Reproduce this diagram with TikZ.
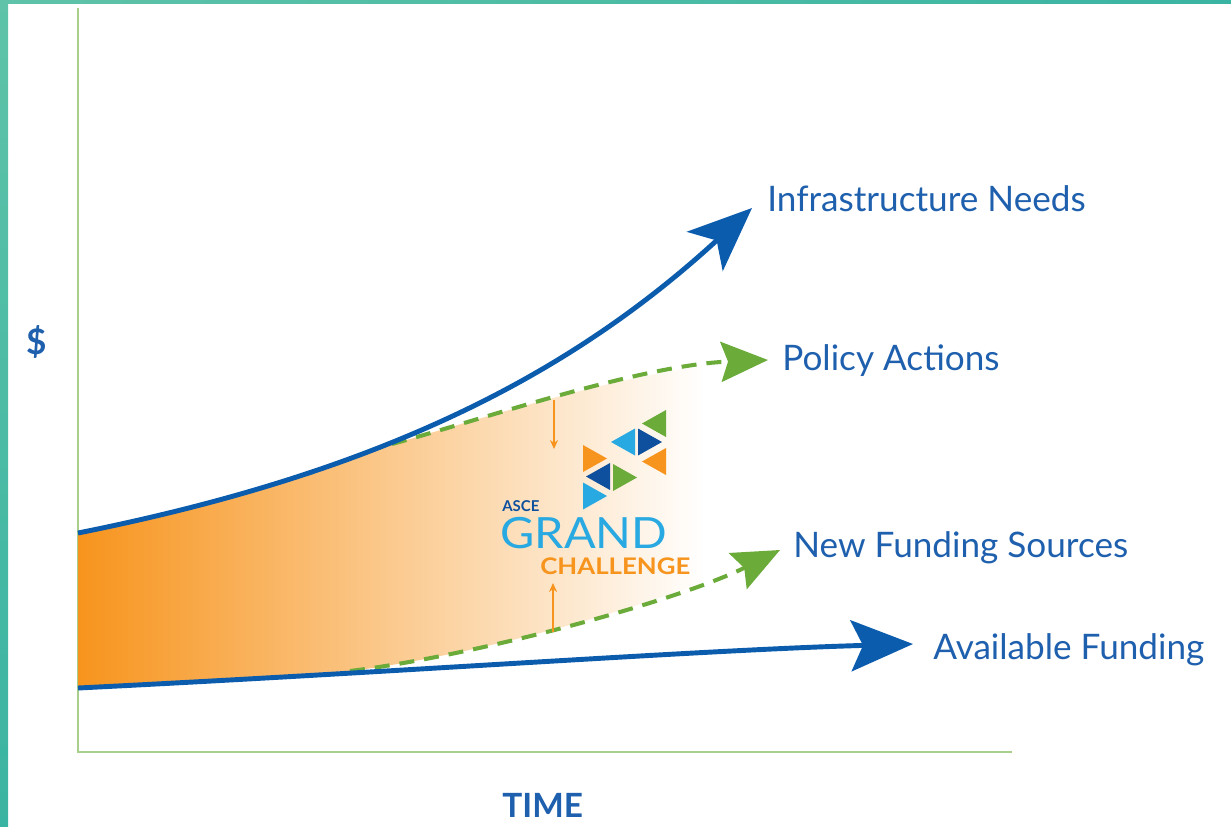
\documentclass[tikz,border=0pt]{standalone}
\usepackage{fontspec}
\setmainfont{Lato}
\usetikzlibrary{arrows.meta}
\usetikzlibrary{positioning}

\definecolor{lineblue}{RGB}{11,92,173}
\definecolor{textblue}{RGB}{30,96,174}
\definecolor{dashgreen}{RGB}{107,171,58}
\definecolor{axisgreen}{RGB}{168,207,139}
\definecolor{fillorange}{RGB}{247,148,29}
\definecolor{logoblue}{RGB}{41,169,225}
\definecolor{logonavy}{RGB}{14,80,158}
\definecolor{tealA}{RGB}{94,195,168}
\definecolor{tealB}{RGB}{58,180,162}

\begin{document}
\begin{tikzpicture}[x=0.02cm,y=-0.02cm,
  curvelbl/.style={font=\fontsize{20}{24}\selectfont,text=textblue,anchor=base west,inner sep=0pt},
  bluecurve/.style={draw=lineblue,line width=2.8pt},
  greendash/.style={draw=dashgreen,line width=2.3pt,dash pattern=on 0.3cm off 0.2cm},
  gapmark/.style={draw=fillorange,line width=0.8pt,-{Stealth[length=0.18cm,width=0.16cm]}}]
\useasboundingbox (0,0) rectangle (1231,826);
\fill[white] (0,0) rectangle (1231,826);
\shade[top color=tealA,bottom color=tealB] (0,0) rectangle (8,826);
\shade[left color=tealA,right color=tealB] (0,0) rectangle (1231,3.5);

% axes
\draw[axisgreen,line width=1.1pt] (78,8) -- (78,752) -- (1012,752);

\coordinate (needs0) at (78,533);
\coordinate (needs1) at (752,208);
\coordinate (fund0) at (78,688);
\coordinate (fund1) at (913,644);
\coordinate (policy0) at (392,444);
\coordinate (policy1) at (768,360);
\coordinate (sources0) at (350,671);
\coordinate (sources1) at (780,550);

% gap between needs and funding
\begin{scope}
\clip (needs0) .. controls (198,509) and (300,479) .. (392,441) -- (policy0) .. controls (480,420) and (640,365) .. (policy1)
  -- (sources1) .. controls (680,600) and (480,655) .. (sources0) -- (fund0) -- cycle;
\shade[left color=fillorange,middle color=fillorange!35,right color=white] (78,300) rectangle (705,700);
\end{scope}

\draw[greendash,-{Stealth[length=0.94cm,width=0.8cm,inset=0.14cm]}] (policy0) .. controls (480,420) and (640,365) .. (policy1);
\draw[greendash,-{Stealth[length=0.94cm,width=0.8cm,inset=0.14cm]}] (sources0) .. controls (480,655) and (680,600) .. (sources1);
\draw[bluecurve,-{Stealth[length=1.28cm,width=1.06cm,inset=0.32cm]}] (needs0) .. controls (378,473) and (568,377) .. (needs1);
\draw[bluecurve,-{Stealth[length=1.24cm,width=1.02cm,inset=0.24cm]}] (fund0) .. controls (400,672) and (700,650) .. (fund1);

\node[curvelbl] (needs) at (767,211) {Infrastructure Needs};
\node[curvelbl] (policy) at (782,370) {Policy Actions};
\node[curvelbl] (sources) at (793,557) {New Funding Sources};
\node[curvelbl] (fund) at (933,659) {Available Funding};
\node[font=\bfseries\fontsize{20}{24}\selectfont,text=textblue] (dollar) at (37,342) {\$};
\node[font=\bfseries\fontsize{19}{22}\selectfont,text=textblue,anchor=base west,inner sep=0pt] (time) at (502,817) {TIME};

% logo
\foreach \ex/\cy/\dx/\col in {666/423.5/-24/dashgreen, 635/442/-24/logoblue, 638/442/24/logonavy, 666/461.5/-24/fillorange,
  583/458.5/24/fillorange, 610/476.5/-24/logonavy, 613/477.5/24/dashgreen, 583/496/24/logoblue}
  \fill[\col] (\ex,\cy-13.5) -- (\ex,\cy+13.5) -- (\ex+\dx,\cy) -- cycle;
\node[font=\bfseries\fontsize{8.5}{10}\selectfont,text=logonavy,anchor=base west,inner sep=0pt] (asce) at (502,511) {ASCE};
\node[font=\fontsize{24.5}{28}\selectfont,text=logoblue,anchor=base west,inner sep=0pt] (grand) at (500,548) {\scalebox{1.09}[1]{GRAND}};
\node[font=\bfseries\fontsize{13}{15}\selectfont,text=fillorange,anchor=base west,inner sep=0pt] (challenge) at (540,574) {\scalebox{1.13}[1]{CHALLENGE}};

\coordinate (gapTop) at (554,400);
\coordinate (gapTopEnd) at (554,449);
\coordinate (gapBot) at (553,632);
\coordinate (gapBotEnd) at (553,583);
\draw[gapmark] (gapTop) -- (gapTopEnd);
\draw[gapmark] (gapBot) -- (gapBotEnd);

\end{tikzpicture}
\end{document}
